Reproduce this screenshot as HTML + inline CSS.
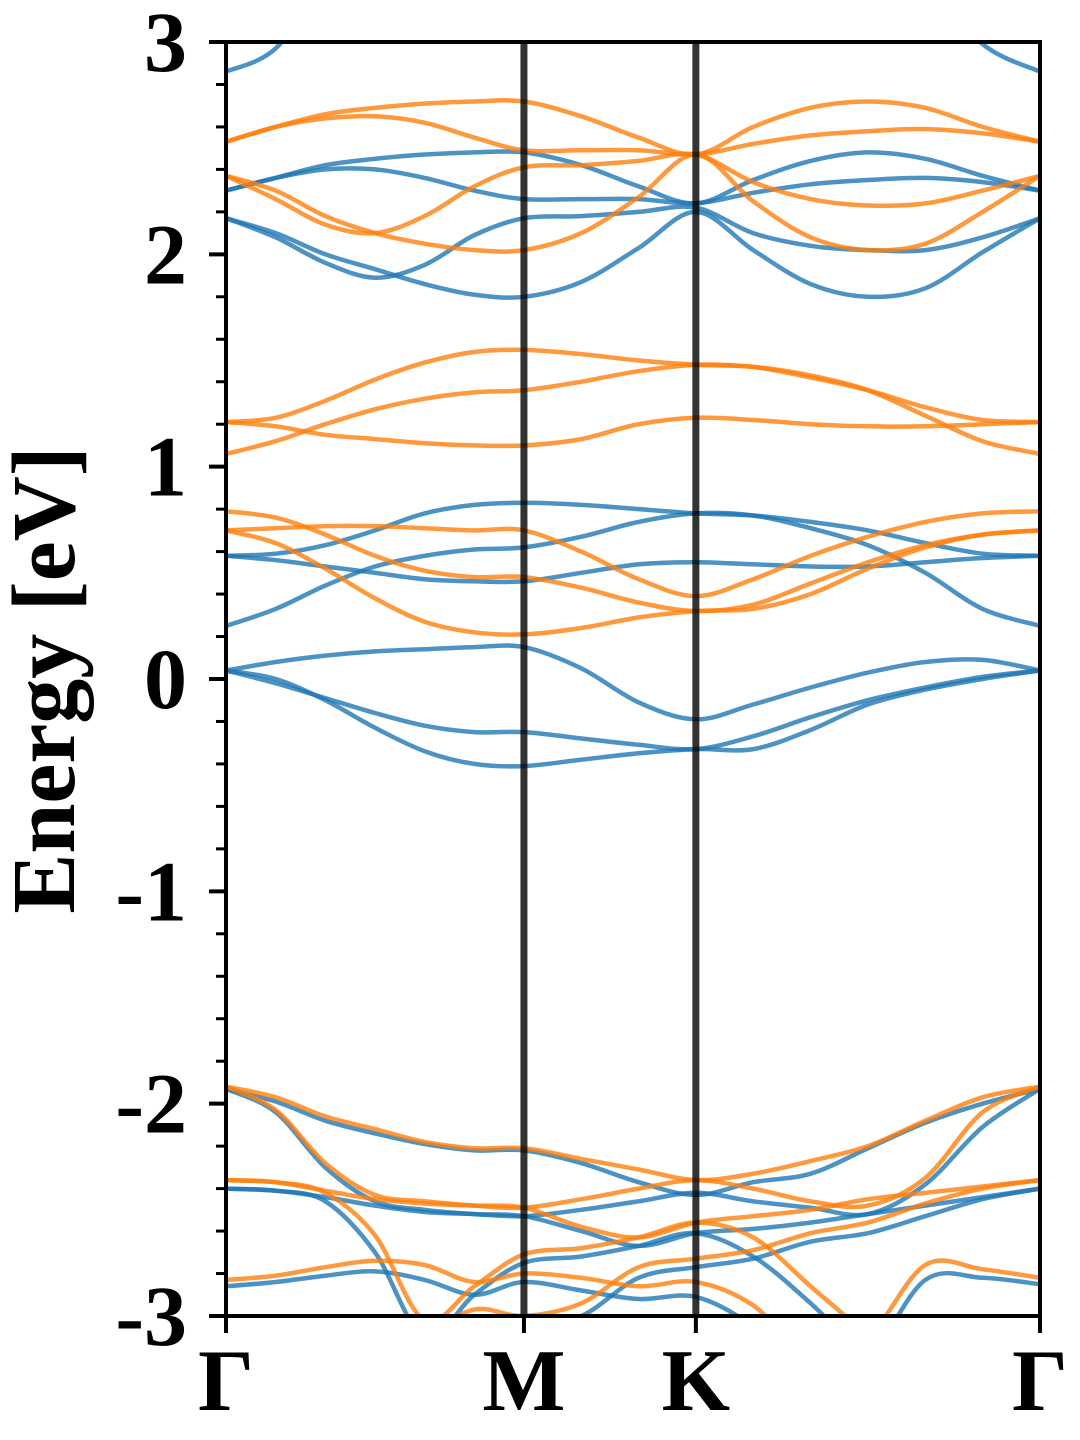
<!DOCTYPE html>
<html><head><meta charset="utf-8"><style>
html,body{margin:0;padding:0;background:#fff;}
svg{display:block;}
text{font-family:"Liberation Serif",serif;font-weight:bold;fill:#000;}
</style></head><body>
<svg id="chart" width="1080" height="1440" viewBox="0 0 1080 1440" xmlns="http://www.w3.org/2000/svg">
<defs><clipPath id="plotclip"><rect x="226" y="42" width="814" height="1274"/></clipPath></defs>
<g id="bands" clip-path="url(#plotclip)"></g>
<g id="axes"></g>
</svg>
<script>
// k-path grid (path length units: Γ-M = 1)
const kGrid = [0, 0.1667, 0.3333, 0.5, 0.6667, 0.8333, 1, 1.1925, 1.385, 1.577, 1.7695, 1.962, 2.1545, 2.347, 2.5395, 2.732];
const kLabels = ["Γ", "M", "K", "Γ"];
const kLabelPos = [0, 1, 1.577, 2.732];
const yTicks = [-3, -2, -1, 0, 1, 2, 3];
const yMinorTicks = [-2.8,-2.6,-2.4,-2.2,-1.8,-1.6,-1.4,-1.2,-0.8,-0.6,-0.4,-0.2,0.2,0.4,0.6,0.8,1.2,1.4,1.6,1.8,2.2,2.4,2.6,2.8];
// spin-up bands (blue)
const bandsUp = [
  [2.86,2.97,3.3,3.6,3.6,3.6,3.6,3.6,3.6,3.6,3.6,3.6,3.6,3.3,2.99,2.86],
  [2.30,2.36,2.42,2.45,2.47,2.48,2.48,2.42,2.32,2.24,2.35,2.44,2.48,2.45,2.37,2.30],
  [2.30,2.36,2.40,2.40,2.36,2.30,2.26,2.26,2.26,2.24,2.29,2.33,2.35,2.36,2.34,2.30],
  [2.17,2.08,1.96,1.89,1.95,2.09,2.17,2.18,2.20,2.22,2.10,2.04,2.02,2.02,2.08,2.17],
  [2.17,2.10,2.00,1.93,1.86,1.81,1.80,1.87,2.03,2.20,2.02,1.86,1.80,1.84,2.01,2.17],
  [0.58,0.59,0.63,0.70,0.78,0.82,0.83,0.82,0.80,0.78,0.77,0.74,0.70,0.64,0.59,0.58],
  [0.58,0.56,0.53,0.50,0.47,0.46,0.46,0.50,0.54,0.55,0.54,0.53,0.53,0.55,0.57,0.58],
  [0.25,0.33,0.44,0.53,0.58,0.61,0.62,0.67,0.74,0.78,0.77,0.71,0.63,0.50,0.33,0.25],
  [0.04,0.08,0.11,0.13,0.14,0.15,0.15,0.05,-0.11,-0.19,-0.12,-0.04,0.03,0.08,0.09,0.04],
  [0.04,-0.02,-0.09,-0.16,-0.22,-0.25,-0.25,-0.28,-0.31,-0.33,-0.27,-0.18,-0.10,-0.04,0.01,0.04],
  [0.04,0.00,-0.10,-0.23,-0.34,-0.40,-0.41,-0.38,-0.35,-0.33,-0.33,-0.24,-0.12,-0.05,0.00,0.04],
  [-1.93,-1.99,-2.08,-2.14,-2.19,-2.22,-2.22,-2.28,-2.37,-2.43,-2.37,-2.33,-2.21,-2.09,-2.00,-1.93],
  [-1.93,-2.04,-2.30,-2.46,-2.50,-2.52,-2.53,-2.50,-2.46,-2.42,-2.46,-2.49,-2.52,-2.38,-2.11,-1.93],
  [-2.40,-2.41,-2.44,-2.48,-2.51,-2.52,-2.53,-2.60,-2.67,-2.61,-2.59,-2.56,-2.52,-2.48,-2.44,-2.40],
  [-2.40,-2.41,-2.46,-2.70,-3.10,-2.90,-2.75,-2.72,-2.67,-2.61,-2.72,-2.94,-3.2,-3.4,-3.4,-3.4],
  [-2.86,-2.84,-2.81,-2.79,-2.83,-2.90,-2.84,-2.88,-2.92,-2.91,-3.05,-3.3,-3.2,-2.83,-2.82,-2.85],
  [-3.4,-3.4,-3.4,-3.4,-3.3,-3.1,-3.05,-3.0,-2.82,-2.77,-2.73,-2.65,-2.61,-2.53,-2.45,-2.40]
];
// spin-down bands (orange)
const bandsDown = [
  [2.53,2.60,2.66,2.69,2.71,2.72,2.72,2.65,2.55,2.47,2.60,2.69,2.72,2.69,2.60,2.53],
  [2.53,2.60,2.64,2.65,2.62,2.55,2.49,2.49,2.49,2.47,2.52,2.56,2.58,2.59,2.57,2.53],
  [2.37,2.26,2.14,2.10,2.18,2.32,2.41,2.42,2.44,2.47,2.34,2.26,2.23,2.24,2.30,2.37],
  [2.37,2.30,2.18,2.10,2.05,2.02,2.02,2.10,2.27,2.47,2.25,2.08,2.02,2.05,2.20,2.37],
  [1.21,1.23,1.31,1.41,1.49,1.54,1.55,1.53,1.50,1.48,1.47,1.42,1.36,1.28,1.22,1.21],
  [1.06,1.12,1.20,1.27,1.32,1.35,1.36,1.40,1.45,1.48,1.47,1.43,1.36,1.24,1.12,1.06],
  [1.21,1.19,1.15,1.13,1.11,1.10,1.10,1.13,1.20,1.23,1.22,1.20,1.19,1.19,1.20,1.21],
  [0.70,0.71,0.72,0.72,0.71,0.70,0.70,0.60,0.47,0.39,0.47,0.58,0.67,0.74,0.78,0.79],
  [0.79,0.76,0.68,0.58,0.51,0.48,0.48,0.43,0.36,0.32,0.35,0.45,0.55,0.63,0.68,0.70],
  [0.70,0.64,0.52,0.38,0.27,0.22,0.21,0.24,0.29,0.32,0.33,0.40,0.52,0.62,0.68,0.70],
  [-1.92,-1.97,-2.06,-2.12,-2.18,-2.21,-2.21,-2.26,-2.31,-2.36,-2.33,-2.27,-2.20,-2.08,-1.97,-1.92],
  [-1.92,-2.03,-2.28,-2.43,-2.46,-2.48,-2.49,-2.45,-2.40,-2.36,-2.40,-2.46,-2.48,-2.35,-2.04,-1.92],
  [-2.36,-2.37,-2.41,-2.45,-2.47,-2.48,-2.49,-2.58,-2.63,-2.56,-2.53,-2.50,-2.45,-2.42,-2.39,-2.36],
  [-2.36,-2.37,-2.42,-2.62,-3.02,-2.86,-2.71,-2.68,-2.63,-2.56,-2.63,-2.86,-3.1,-3.4,-3.4,-3.4],
  [-2.83,-2.81,-2.77,-2.74,-2.76,-2.84,-2.80,-2.82,-2.86,-2.84,-2.95,-3.2,-3.1,-2.76,-2.78,-2.82],
  [-3.4,-3.4,-3.4,-3.3,-3.1,-2.97,-3.0,-2.94,-2.77,-2.73,-2.69,-2.61,-2.56,-2.47,-2.40,-2.36]
];

const X0 = 226, X1 = 1040, Y0 = 42, Y1 = 1316;
const kMax = 2.732, eMin = -3, eMax = 3;
function xs(k){ return X0 + (k / kMax) * (X1 - X0); }
function ys(e){ return Y1 - (e - eMin) / (eMax - eMin) * (Y1 - Y0); }
const NS = "http://www.w3.org/2000/svg";

function bandPath(vals){
  const pts = vals.map((v,i)=>[xs(kGrid[i]), ys(v)]);
  let d = "M" + pts[0][0].toFixed(1) + "," + pts[0][1].toFixed(1);
  for (let i=0;i<pts.length-1;i++){
    const p0 = pts[Math.max(i-1,0)], p1 = pts[i], p2 = pts[i+1], p3 = pts[Math.min(i+2,pts.length-1)];
    const c1x = p1[0] + (p2[0]-p0[0])/6, c1y = p1[1] + (p2[1]-p0[1])/6;
    const c2x = p2[0] - (p3[0]-p1[0])/6, c2y = p2[1] - (p3[1]-p1[1])/6;
    d += " C" + c1x.toFixed(1)+","+c1y.toFixed(1)+" "+c2x.toFixed(1)+","+c2y.toFixed(1)+" "+p2[0].toFixed(1)+","+p2[1].toFixed(1);
  }
  return d;
}

const gB = document.getElementById("bands");
bandsUp.forEach((b,i)=>{
  const p = document.createElementNS(NS,"path");
  p.setAttribute("d", bandPath(b));
  p.setAttribute("fill","none");
  p.setAttribute("stroke","#1f77b4");
  p.setAttribute("stroke-opacity","0.8");
  p.setAttribute("stroke-width","4.5");
  
  
  gB.appendChild(p);
});
bandsDown.forEach((b,i)=>{
  const p = document.createElementNS(NS,"path");
  p.setAttribute("d", bandPath(b));
  p.setAttribute("fill","none");
  p.setAttribute("stroke","#ff7f0e");
  p.setAttribute("stroke-opacity","0.8");
  p.setAttribute("stroke-width","4.5");
  
  
  gB.appendChild(p);
});

const gA = document.getElementById("axes");
[kLabelPos[1], kLabelPos[2]].forEach(k=>{
  const l = document.createElementNS(NS,"line");
  l.setAttribute("x1", xs(k)); l.setAttribute("x2", xs(k));
  l.setAttribute("y1", Y0); l.setAttribute("y2", Y1);
  l.setAttribute("stroke","#000"); l.setAttribute("stroke-opacity","0.8"); l.setAttribute("stroke-width","7");
  
  
  gA.appendChild(l);
});
const fr = document.createElementNS(NS,"rect");
fr.setAttribute("x", X0); fr.setAttribute("y", Y0);
fr.setAttribute("width", X1-X0); fr.setAttribute("height", Y1-Y0);
fr.setAttribute("fill","none"); fr.setAttribute("stroke","#000"); fr.setAttribute("stroke-width","4");


gA.appendChild(fr);
yTicks.forEach(v=>{
  const l = document.createElementNS(NS,"line");
  l.setAttribute("x1", X0-17); l.setAttribute("x2", X0);
  l.setAttribute("y1", ys(v)); l.setAttribute("y2", ys(v));
  l.setAttribute("stroke","#000"); l.setAttribute("stroke-width","4");
  
  
  gA.appendChild(l);
  const t = document.createElementNS(NS,"text");
  t.setAttribute("x", 187); t.setAttribute("y", ys(v)+29);
  t.setAttribute("text-anchor","end"); t.setAttribute("font-size","86");
  t.textContent = String(v);
  
  
  gA.appendChild(t);
});
yMinorTicks.forEach(v=>{
  const l = document.createElementNS(NS,"line");
  l.setAttribute("x1", X0-10); l.setAttribute("x2", X0);
  l.setAttribute("y1", ys(v)); l.setAttribute("y2", ys(v));
  l.setAttribute("stroke","#000"); l.setAttribute("stroke-width","3");
  
  
  gA.appendChild(l);
});
kLabelPos.forEach((k,i)=>{
  const l = document.createElementNS(NS,"line");
  l.setAttribute("x1", xs(k)); l.setAttribute("x2", xs(k));
  l.setAttribute("y1", Y1); l.setAttribute("y2", Y1+17);
  l.setAttribute("stroke","#000"); l.setAttribute("stroke-width","4");
  
  
  gA.appendChild(l);
  const t = document.createElementNS(NS,"text");
  t.setAttribute("x", xs(k)); t.setAttribute("y", 1410);
  t.setAttribute("text-anchor","middle"); t.setAttribute("font-size","88");
  t.textContent = kLabels[i];
  
  
  gA.appendChild(t);
});
const yt = document.createElementNS(NS,"text");
yt.setAttribute("x", 0); yt.setAttribute("y", 0);
yt.setAttribute("transform","translate(74,680) rotate(-90)");
yt.setAttribute("text-anchor","middle"); yt.setAttribute("font-size","90");
yt.textContent = "Energy [eV]";


gA.appendChild(yt);
</script>
</body></html>
